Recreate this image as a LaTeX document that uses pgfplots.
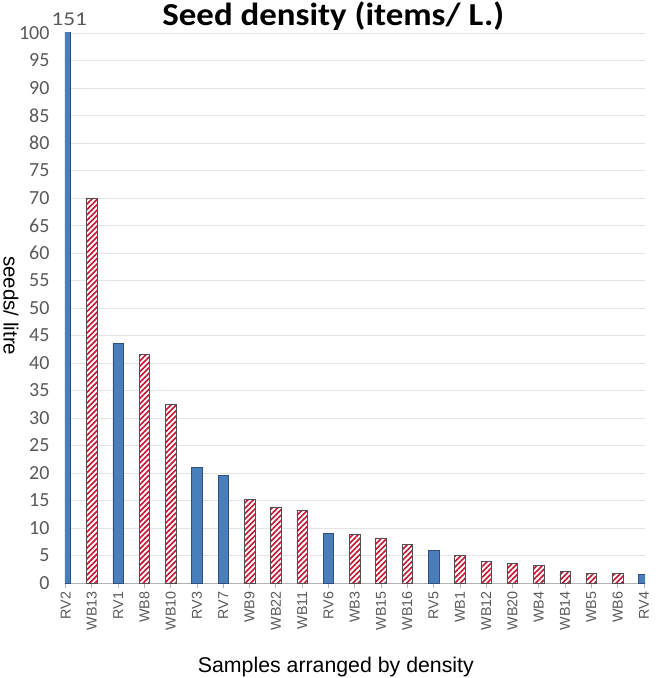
\documentclass[border=0pt]{standalone}
\usepackage{fontspec}
\setmainfont{Liberation Sans}
\newfontfamily\calibri{Carlito}
\usepackage{pgfplots}
\pgfplotsset{compat=1.18}
\usetikzlibrary{patterns.meta}
\definecolor{barblue}{HTML}{4A7EBB}
\definecolor{barblueedge}{HTML}{2F4F80}
\definecolor{hatchred}{HTML}{C8102E}
\definecolor{tickgray}{HTML}{595959}
\definecolor{edgegray}{HTML}{505050}

\begin{document}
\begin{tikzpicture}
\useasboundingbox (-65pt,-95pt) rectangle (592pt,583pt);
\begin{axis}[
  at={(0,0)}, anchor=south west,
  scale only axis, width=580pt, height=550pt,
  xmin=-0.02, xmax=22.04, ymin=0, ymax=100,
  clip mode=individual,
  ytick={0,5,...,100},
  xtick={0,...,22},
  xticklabels={RV2,WB13,RV1,WB8,WB10,RV3,RV7,WB9,WB22,WB11,RV6,WB3,WB15,WB16,RV5,WB1,WB12,WB20,WB4,WB14,WB5,WB6,RV4},
  axis x line*=bottom, axis y line*=left,
  y axis line style={draw=none},
  x axis line style={draw=gray!60, line width=1pt},
  ytick style={draw=none},
  xtick style={draw=gray!60, line width=0.8pt},
  tick align=outside, major tick length=5pt,
  ymajorgrids, grid style={draw=gray!22, line width=0.8pt},
  yticklabel style={font=\calibri\fontsize{20}{22}\selectfont, text=tickgray, xshift=-7pt},
  xticklabel style={font=\fontsize{14.3}{16}\selectfont, text=tickgray, rotate=90, anchor=east},
  /pgf/number format/assume math mode=true,
  title={Seed density (items/ L.)},
  title style={font=\calibri\bfseries\fontsize{32}{36}\selectfont, xscale=1.09, at={(axis description cs:0.4626,1.0036)}, anchor=base, inner sep=0pt},
  xlabel={Samples arranged by density},
  xlabel style={font=\fontsize{21.3}{24}\selectfont, at={(axis description cs:0.467,-0.1636)}, anchor=base},
  ylabel={seeds/ litre},
  ylabel style={font=\fontsize{20.5}{24}\selectfont, at={(axis description cs:-0.093,0.504)}, anchor=center, rotate=180, inner sep=0pt},
]
\addplot[ybar, bar width=10.5pt, bar shift=0pt, fill=barblue, draw=barblueedge, line width=0.6pt]
  coordinates {(0,151) (2,43.5) (5,21) (6,19.5) (10,9) (14,6) (22,1.56)};
\addplot[ybar, bar width=10.5pt, bar shift=0pt, fill=white, draw=edgegray, line width=0.6pt,
  postaction={pattern={Lines[angle=45,distance=3.8pt,line width=1.6pt]}, pattern color=hatchred}]
  coordinates {(1,70) (3,41.5) (4,32.5) (7,15.2) (8,13.85) (9,13.3) (11,8.77) (12,8.2) (13,7.0)
               (15,5.08) (16,3.87) (17,3.56) (18,3.2) (19,2.05) (20,1.75) (21,1.75)};
\node[font=\calibri\fontsize{19.5}{20}\selectfont, text=tickgray, anchor=base, xscale=1.2, yshift=7pt] at (axis cs:0.14,100) {151};
\end{axis}
\end{tikzpicture}
\end{document}
